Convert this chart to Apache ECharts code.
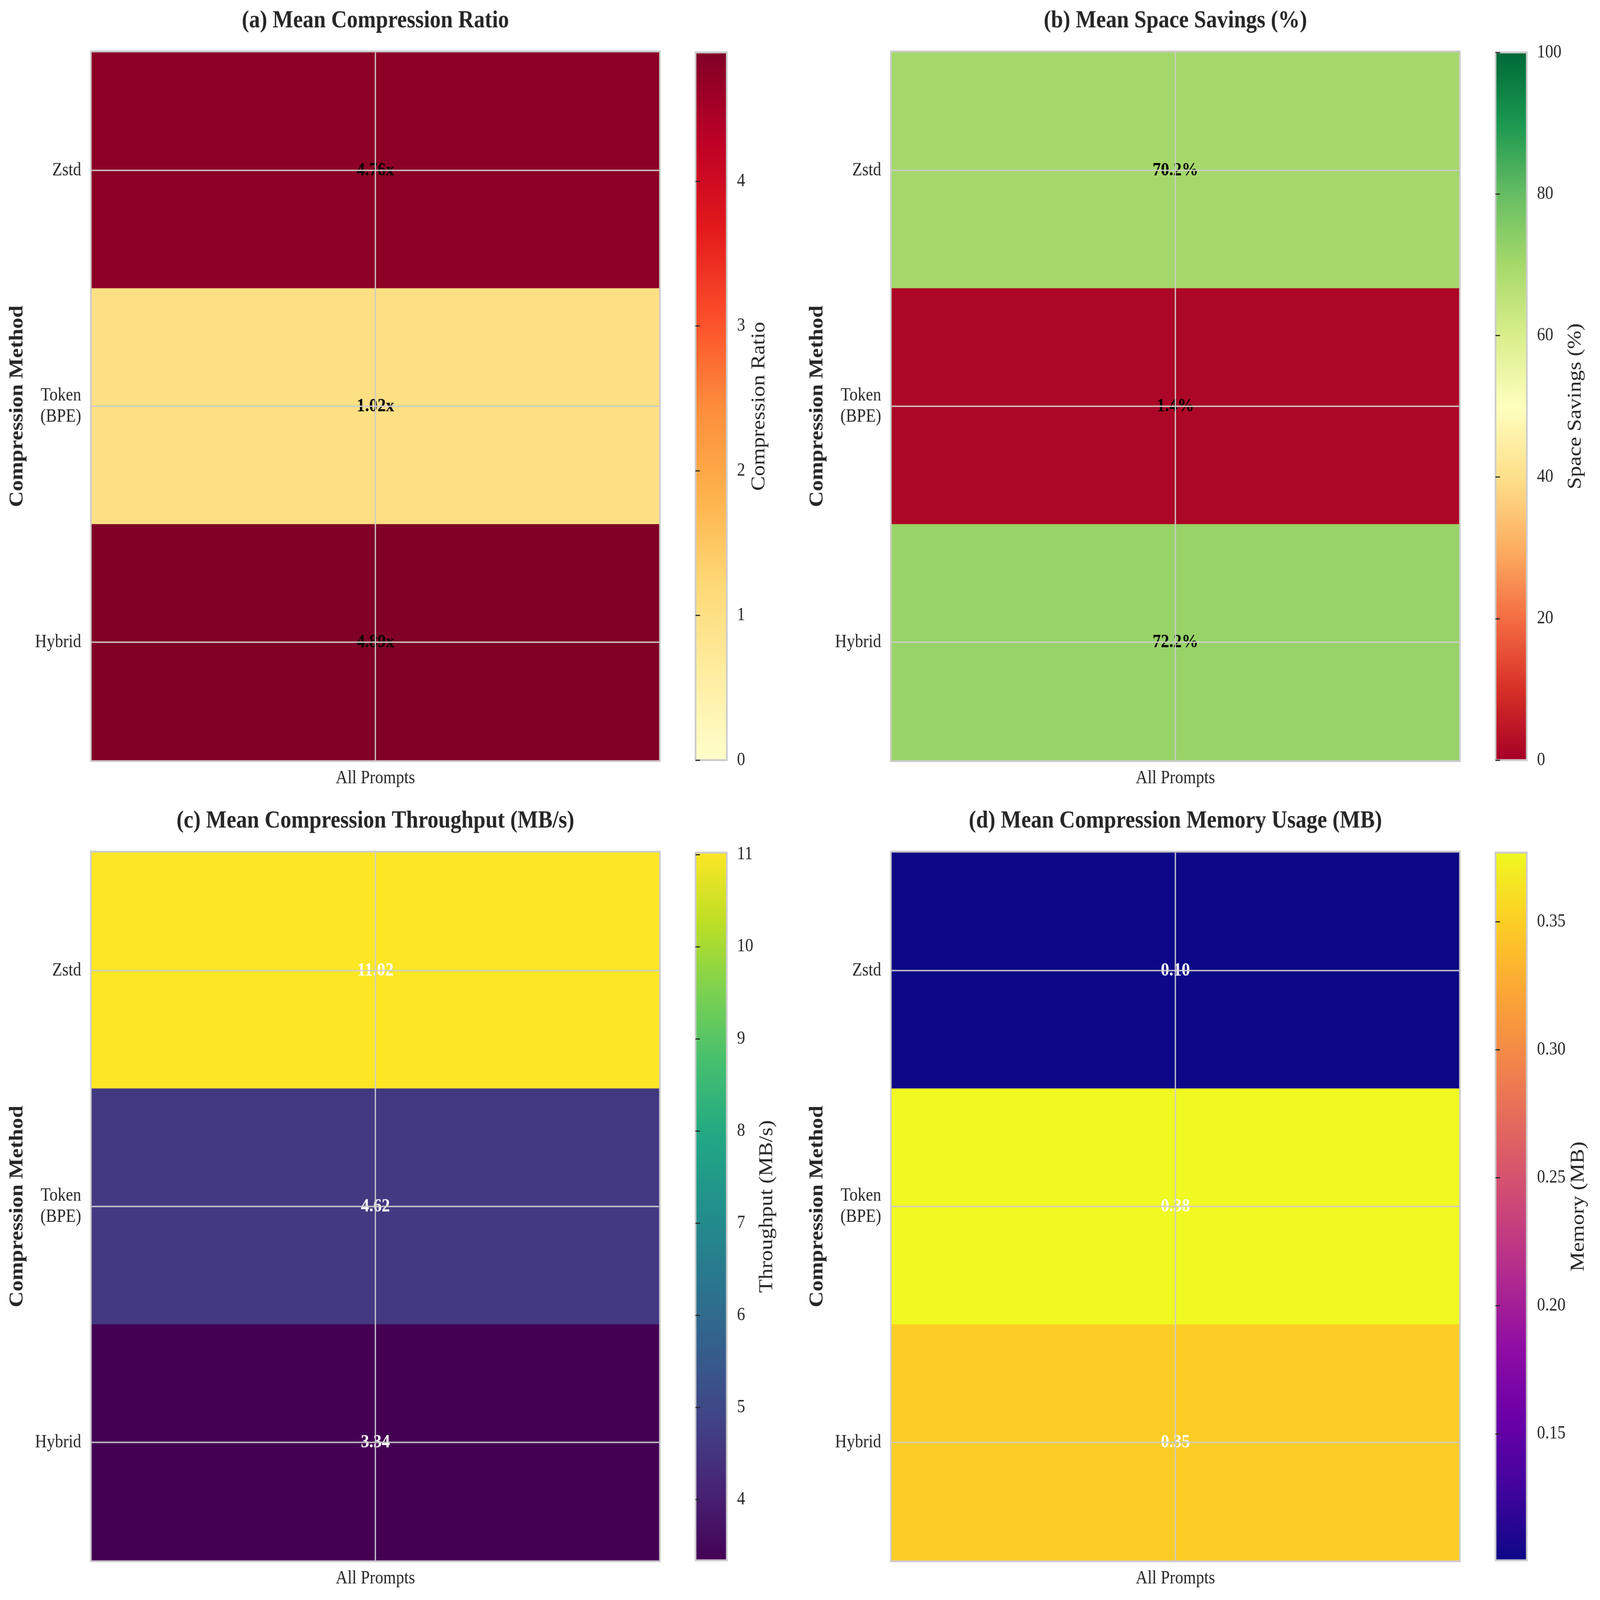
<!DOCTYPE html>
<html>
<head>
<meta charset="utf-8">
<script src="https://cdn.jsdelivr.net/npm/echarts@6/dist/echarts.min.js"></script>
<style>
  html, body { margin: 0; padding: 0; background: #ffffff; overflow: hidden; }
  #chart { width: 4710px; height: 4151px; position: absolute; left: 0; top: 0; transform-origin: 0 0; }
</style>
</head>
<body>
<div id="chart"></div>
<script>
// ---------------- Data ----------------
const methods = ['Zstd', 'Token\n(BPE)', 'Hybrid'];
const xCategories = ['All Prompts'];

const compressionRatio = [4.76, 1.02, 4.89];
const spaceSavings = [70.2, 1.4, 72.2];
const throughput = [11.02, 4.62, 3.34];
const memoryMB = [0.1006, 0.377, 0.349];

const ratioRange = [0, 4.89];
const savingsRange = [0, 100];
const throughputRange = [3.34, 11.02];
const memoryRange = [0.1006, 0.377];

const ratioTicks = [0, 1, 2, 3, 4];
const savingsTicks = [0, 20, 40, 60, 80, 100];
const throughputTicks = [4, 5, 6, 7, 8, 9, 10, 11];
const memoryTicks = [0.15, 0.20, 0.25, 0.30, 0.35];

const titles = [
  '(a) Mean Compression Ratio',
  '(b) Mean Space Savings (%)',
  '(c) Mean Compression Throughput (MB/s)',
  '(d) Mean Compression Memory Usage (MB)'
];
const colorbarLabels = ['Compression Ratio', 'Space Savings (%)', 'Throughput (MB/s)', 'Memory (MB)'];

// colormaps
const YlOrRd = ['#ffffcc', '#ffeda0', '#fed976', '#feb24c', '#fd8d3c', '#fc4e2a', '#e31a1c', '#bd0026', '#800026'];
const RdYlGn = ['#a50026', '#d73027', '#f46d43', '#fdae61', '#fee08b', '#ffffbf', '#d9ef8b', '#a6d96a', '#66bd63', '#1a9850', '#006837'];
const viridis = ['#440154', '#482475', '#414487', '#355f8d', '#2a788e', '#21918c', '#22a884', '#44bf70', '#7ad151', '#bddf26', '#fde725'];
const plasma = ['#0d0887', '#41049d', '#6a00a8', '#8f0da4', '#b12a90', '#cc4778', '#e16462', '#f2844b', '#fca636', '#fcce25', '#f0f921'];

// ---------------- Fit the 4710x4151 figure into the actual window ----------------
const FIG_W = 4710, FIG_H = 4151;
const el = document.getElementById('chart');
const sx = (window.innerWidth || FIG_W) / FIG_W;
const sy = (window.innerHeight || FIG_H) / FIG_H;
el.style.transform = 'scale(' + sx + ',' + sy + ')';

// ---------------- Layout / style ----------------
const FONT = 'Liberation Serif';
const TXT = '#262626';
const panels = [
  { values: compressionRatio, range: ratioRange, ticks: ratioTicks, cmap: YlOrRd, textColor: '#000000',
    fmt: v => v.toFixed(2) + 'x', tickFmt: v => String(v), left: 270, top: 136, nameGap: 67 },
  { values: spaceSavings, range: savingsRange, ticks: savingsTicks, cmap: RdYlGn, textColor: '#000000',
    fmt: v => v.toFixed(1) + '%', tickFmt: v => String(v), left: 2625, top: 136, nameGap: 115 },
  { values: throughput, range: throughputRange, ticks: throughputTicks, cmap: viridis, textColor: '#ffffff',
    fmt: v => v.toFixed(2), tickFmt: v => String(v), left: 270, top: 2212, nameGap: 90 },
  { values: memoryMB, range: memoryRange, ticks: memoryTicks, cmap: plasma, textColor: '#ffffff',
    fmt: v => v.toFixed(2), tickFmt: v => v.toFixed(2), left: 2625, top: 2212, nameGap: 124 }
];
const HM_W = 1670, HM_H = 1836;
const CB_OFFSET = 1777.5, CB_W = 92;

const grids = [], xAxes = [], yAxes = [], series = [], visualMaps = [], titleOpts = [];

panels.forEach((p, i) => {
  const hmGrid = grids.length;
  grids.push({ left: p.left, top: p.top, width: HM_W, height: HM_H, show: true,
    backgroundColor: 'transparent', borderColor: '#cccccc', borderWidth: 10, containLabel: false });
  const cbGrid = grids.length;
  grids.push({ left: p.left + CB_OFFSET, top: p.top, width: CB_W, height: HM_H, show: true,
    backgroundColor: {
      type: 'linear', x: 0, y: 1, x2: 0, y2: 0,
      colorStops: p.cmap.map((c, k) => ({ offset: k / (p.cmap.length - 1), color: c }))
    },
    borderColor: '#cccccc', borderWidth: 5, containLabel: false });

  const hx = xAxes.length;
  xAxes.push({ gridIndex: hmGrid, type: 'category', data: xCategories, position: 'bottom',
    axisLine: { show: false }, axisTick: { show: false }, splitLine: { show: false },
    axisLabel: { fontSize: 48, fontFamily: FONT, color: TXT, margin: 23 } });
  xAxes.push({ gridIndex: cbGrid, type: 'value', show: false });

  const hy = yAxes.length;
  yAxes.push({ gridIndex: hmGrid, type: 'category', data: methods, inverse: true,
    axisLine: { show: false }, axisTick: { show: false }, splitLine: { show: false },
    axisLabel: { fontSize: 48, fontFamily: FONT, color: TXT, margin: 31, lineHeight: 55, align: 'right' },
    name: 'Compression Method', nameLocation: 'middle', nameRotate: 90, nameGap: 190,
    nameTextStyle: { fontSize: 57, fontFamily: FONT, fontWeight: 'bold', color: TXT } });
  yAxes.push({ gridIndex: cbGrid, type: 'value', position: 'right', min: p.range[0], max: p.range[1],
    axisLine: { show: false }, splitLine: { show: false },
    axisTick: { show: true, inside: false, length: 13, lineStyle: { color: TXT, width: 3 }, customValues: p.ticks },
    axisLabel: { show: true, customValues: p.ticks, fontSize: 48, fontFamily: FONT, color: TXT, margin: 30,
      formatter: p.tickFmt },
    name: colorbarLabels[i], nameLocation: 'middle', nameRotate: 90, nameGap: p.nameGap,
    nameTextStyle: { fontSize: 57, fontFamily: FONT, color: TXT } });

  series.push({
    type: 'heatmap', xAxisIndex: hx, yAxisIndex: hy,
    data: p.values.map((v, k) => [0, k, v]),
    label: { show: true, fontSize: 49, fontFamily: FONT, fontWeight: 'bold', color: p.textColor,
      formatter: prm => p.fmt(prm.value[2]) },
    emphasis: { disabled: true },
    markLine: {
      silent: true, symbol: 'none', animation: false,
      label: { show: false },
      lineStyle: { color: '#cccccc', width: 3.5, type: 'solid' },
      data: [{ xAxis: xCategories[0] }].concat(methods.map(m => ({ yAxis: m })))
    }
  });

  visualMaps.push({ type: 'continuous', show: false, seriesIndex: i, dimension: 2,
    min: p.range[0], max: p.range[1], inRange: { color: p.cmap } });

  titleOpts.push({ text: titles[i], left: p.left + HM_W / 2, top: p.top - 114, textAlign: 'center', padding: 0,
    textStyle: { fontSize: 64, fontFamily: FONT, fontWeight: 'bold', color: TXT } });
});

const chart = echarts.init(el, null, { renderer: 'canvas', devicePixelRatio: 1, width: FIG_W, height: FIG_H });
chart.setOption({
  backgroundColor: '#ffffff',
  animation: false,
  title: titleOpts,
  grid: grids,
  xAxis: xAxes,
  yAxis: yAxes,
  visualMap: visualMaps,
  series: series
});
</script>
</body>
</html>
